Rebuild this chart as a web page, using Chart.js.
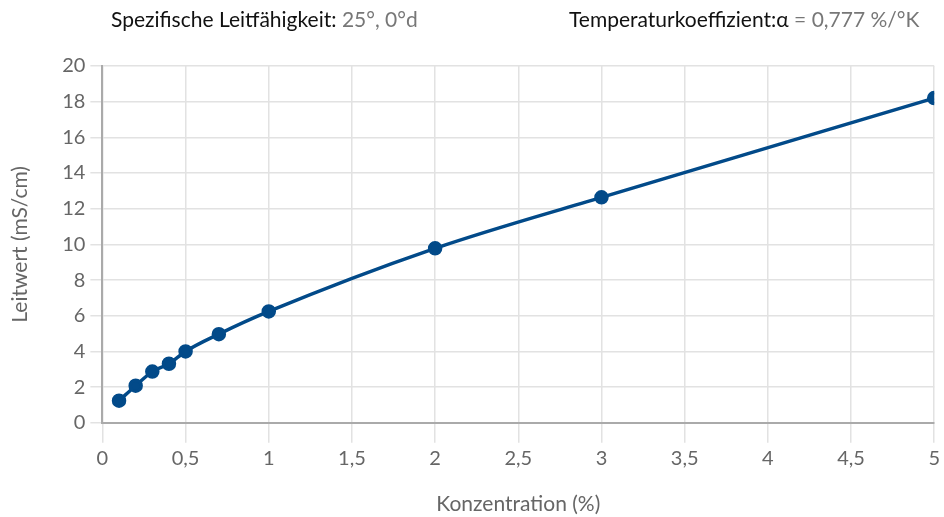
<!DOCTYPE html>
<html>
<head>
	<title>Leitfähigkeit</title>
	<script src="https://cdn.jsdelivr.net/npm/chart.js"></script>
	<style>
		body{
			margin: 0;
			background: #fff;
			font-family: Lato, "Open Sans", sans-serif;
		}
		#wrap{
			position: relative;
			width: 944px;
			height: 517px;
		}
		.head{
			position: absolute;
			top: 6px;
			font-size: 21px;
			color: #111;
			white-space: nowrap;
		}
		.head span{
			color: #777;
		}
		#h1{ left: 111px; }
		#h2{ left: 569px; }
	</style>
</head>
<body>
	<div id="wrap">
		<div class="head" id="h1">Spezifische Leitfähigkeit: <span>25°, 0°d</span></div>
		<div class="head" id="h2">Temperaturkoeffizient:α <span>= 0,777 %/°K</span></div>
		<canvas id="chart" width="944" height="517"></canvas>
	</div>
	<script>
		// Konzentration in %, Leitwert in mS/cm
		var konzentration = [0.1, 0.2, 0.3, 0.4, 0.5, 0.7, 1, 2, 3, 5];
		var leitwert = [1.24, 2.08, 2.87, 3.31, 4.0, 4.97, 6.24, 9.78, 12.64, 18.2];

		var xTitle = 'Konzentration (%)';
		var yTitle = 'Leitwert (mS/cm)';

		var points = [];
		for (var i = 0; i < konzentration.length; i++) {
			points.push({ x: konzentration[i], y: leitwert[i] });
		}

		var blue = '#024a89';
		var tickFont = { family: 'Lato', size: 20 };
		var titleFont = { family: 'Lato', size: 21 };

		var ctx = document.getElementById('chart').getContext('2d');
		var myChart = new Chart(ctx, {
			type: 'line',
			data: {
				datasets: [{
					data: points,
					borderColor: blue,
					backgroundColor: blue,
					borderWidth: 3.5,
					pointRadius: 5.5,
					pointHoverRadius: 5.5,
					cubicInterpolationMode: 'monotone',
					fill: false
				}]
			},
			options: {
				responsive: false,
				animation: false,
				layout: { padding: { top: 66, right: 2, left: 8, bottom: 0 } },
				plugins: {
					legend: { display: false },
					tooltip: { enabled: false }
				},
				scales: {
					x: {
						type: 'linear',
						min: 0,
						max: 5,
						ticks: {
							stepSize: 0.5,
							color: '#666',
							font: tickFont,
							padding: 4,
							callback: function(v) { return String(v).replace('.', ','); }
						},
						grid: { color: '#e2e2e2', lineWidth: 1.5, tickLength: 20 },
						border: { color: '#aaa', width: 2 },
						title: {
							display: true,
							text: xTitle,
							color: '#666',
							font: titleFont,
							padding: { top: 17, bottom: 0 }
						}
					},
					y: {
						min: 0,
						max: 20,
						ticks: {
							stepSize: 2,
							color: '#666',
							font: tickFont,
							padding: 5
						},
						grid: { color: '#e2e2e2', lineWidth: 1.5, tickLength: 12 },
						border: { color: '#aaa', width: 2 },
						title: {
							display: true,
							text: yTitle,
							color: '#666',
							font: titleFont,
							padding: { top: 0, bottom: 24 }
						}
					}
				}
			}
		});
	</script>
</body>
</html>
